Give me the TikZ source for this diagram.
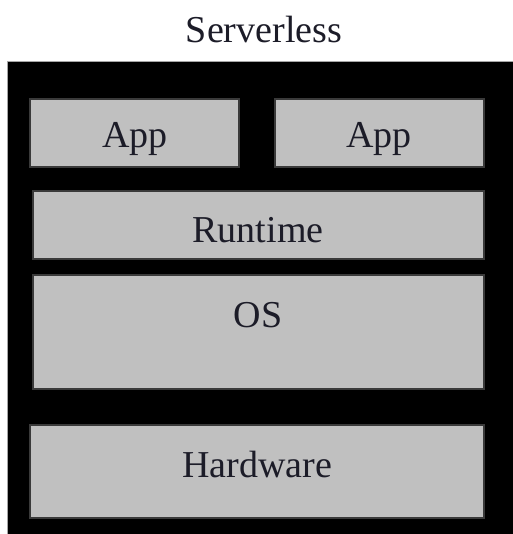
\documentclass[tikz,border=0pt]{standalone}
\usepackage{fontspec}
\setmainfont{Liberation Serif}
\definecolor{boxfill}{HTML}{C0C0C0}
\definecolor{boxedge}{HTML}{3A3A3A}
\definecolor{labelcol}{HTML}{1C1C28}
\begin{document}
\begin{tikzpicture}[x=1pt,y=-1pt,
  layer/.style={draw=boxedge, fill=boxfill, line width=2pt, inner sep=0pt, outer sep=0pt, anchor=north west},
  lbl/.style={font=\fontsize{38}{40}\selectfont, text=labelcol, inner sep=0pt, anchor=base}]
\useasboundingbox (0,0) rectangle (512,534);
\fill[white] (0,0) rectangle (512,534);
\node[draw=gray!70, line width=0.6pt, fill=black, inner sep=0pt, outer sep=0pt, anchor=north west, minimum width=510pt, minimum height=478pt] (frame) at (7,61) {};
\node[layer, minimum width=209pt, minimum height=68pt] (app1) at (30,99) {};
\node[layer, minimum width=209pt, minimum height=68pt] (app2) at (275,99) {};
\node[layer, minimum width=451pt, minimum height=68pt] (runtime) at (33,191) {};
\node[layer, minimum width=451pt, minimum height=114pt] (os) at (33,275) {};
\node[layer, minimum width=454pt, minimum height=93pt] (hw) at (30,425) {};
\node[lbl] (title) at (264,43) {Serverless};
\node[lbl] (tapp1) at (135,148) {App};
\node[lbl] (tapp2) at (379,148) {App};
\node[lbl] (truntime) at (258,242) {Runtime};
\node[lbl] (tos) at (258,327) {OS};
\node[lbl] (thw) at (257,477) {Hardware};
\end{tikzpicture}
\end{document}
